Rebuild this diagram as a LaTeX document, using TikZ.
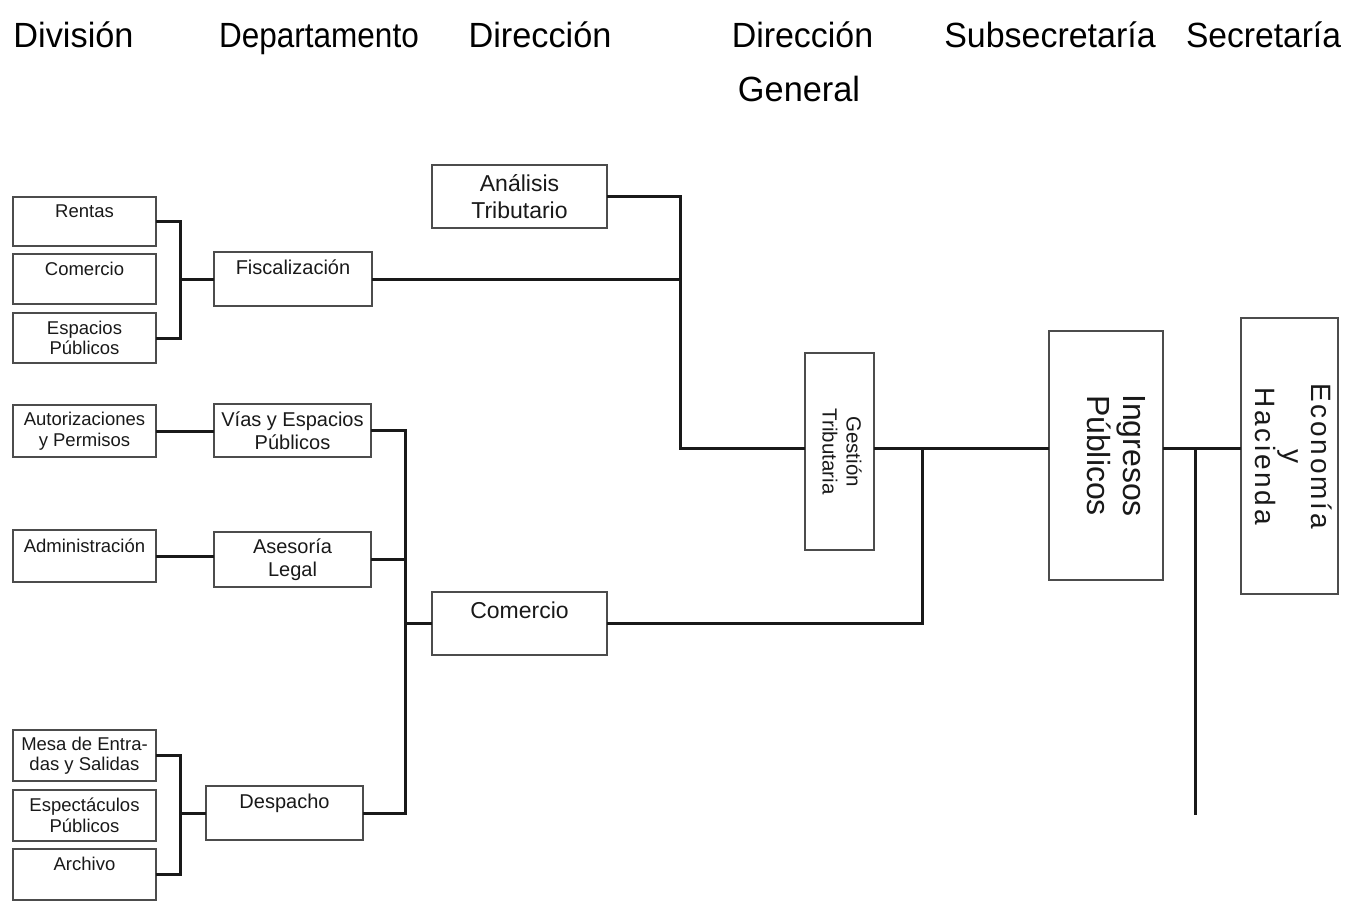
\documentclass[tikz,border=0pt]{standalone}
\usepackage{fontspec}
\setmainfont{Liberation Sans}
\usepackage{graphicx}
\usetikzlibrary{calc}
\begin{document}
\begin{tikzpicture}[x=1pt,y=-1pt,
  box/.style={draw=black!70, line width=1.2pt, inner sep=0pt, outer sep=0pt, align=center, text=black!90},
  bx/.style 2 args={minimum width=#1, minimum height=#2},
  conn/.style={line width=3pt, draw=black!90},
  sm/.style={font=\fontsize{18.5}{20.5}\selectfont},
  md/.style={font=\fontsize{20}{23}\selectfont},
  lg/.style={font=\fontsize{23}{27}\selectfont},
  hdr/.style={font=\fontsize{35}{40}\selectfont, inner sep=0pt, anchor=base, text=black}]
\useasboundingbox (0,0) rectangle (1358,921);

% headers
\node[hdr] (hdiv) at (73.5,47) {\scalebox{0.98}[1]{División}};
\node[hdr] (hdep) at (319,47) {\scalebox{0.9}[1]{Departamento}};
\node[hdr] (hdir) at (540,47) {\scalebox{0.98}[1]{Dirección}};
\node[hdr] (hdg1) at (802.5,47) {\scalebox{0.97}[1]{Dirección}};
\node[hdr] (hdg2) at (799,101) {\scalebox{0.98}[1]{General}};
\node[hdr] (hsub) at (1050,47) {\scalebox{0.97}[1]{Subsecretaría}};
\node[hdr] (hsec) at (1263.5,47) {\scalebox{0.96}[1]{Secretaría}};

% boxes
\node[box,sm,bx={143}{49}] (rentas) at (84.5,221.5) {Rentas\\\mbox{}};
\node[box,sm,bx={143}{50}] (comS) at (84.5,279) {Comercio\\\mbox{}};
\node[box,sm,bx={143}{50}] (esp) at (84.5,338) {Espacios\\Públicos};
\node[box,md,bx={158}{54}] (fisc) at (293,279) {Fiscalización\\\mbox{}};
\node[box,lg,bx={175}{63}] (anal) at (519.5,196.5) {Análisis\\Tributario};
\node[box,bx={69}{197},font=\fontsize{20.5}{24}\selectfont] (gest) at (839.5,451.5)
  {\rotatebox{-90}{\begin{tabular}{@{}c@{}}Gestión\\Tributaria\end{tabular}}};
\node[box,bx={114}{249},font=\fontsize{32}{36}\selectfont] (ingr) at (1106,455.5)
  {\rotatebox{-90}{\raisebox{7pt}[\height][\depth]{\begin{tabular}{@{}c@{}}Ingresos\\Públicos\end{tabular}}}};
\node[box,bx={97}{276},font=\fontsize{28}{28}\selectfont] (econ) at (1289.5,456)
  {\rotatebox{-90}{\addfontfeature{LetterSpace=10}\begin{tabular}{@{}c@{}}Economía\\y\\Hacienda\end{tabular}}};
\node[box,sm,bx={143}{52}] (autor) at (84.5,431) {Autorizaciones\\y Permisos};
\node[box,md,bx={157}{53}] (vias) at (292.5,430.5) {Vías y Espacios\\Públicos};
\node[box,sm,bx={143}{52}] (admin) at (84.5,556) {Administración\\\mbox{}};
\node[box,md,bx={157}{55}] (ases) at (292.5,559.5) {Asesoría\\Legal};
\node[box,lg,bx={175}{63}] (comD) at (519.5,623.5) {Comercio\\\mbox{}};
\node[box,md,bx={157}{54}] (desp) at (284.5,813) {Despacho\\\mbox{}};
\node[box,sm,bx={143}{51}] (mesa) at (84.5,755.5) {Mesa de Entra-\\das y Salidas};
\node[box,sm,bx={143}{51}] (espect) at (84.5,815.5) {Espectáculos\\Públicos};
\node[box,sm,bx={143}{51}] (arch) at (84.5,874.5) {Archivo\\\mbox{}};

% helper coordinates
\coordinate (xa) at (180,0);
\coordinate (xb) at (680,0);
\coordinate (xc) at (922,0);
\coordinate (xd) at (1195,0);
\coordinate (xe) at (405,0);
\coordinate (ym) at (0,448);
\coordinate (endline) at (1195,815);

% connectors
\draw[conn] (rentas.east) -| (xa |- fisc.west) |- (esp.east);
\draw[conn] (xa |- fisc.west) -- (fisc.west);
\draw[conn] (fisc.east) -- (fisc.east -| xb);
\draw[conn] (anal.east) -| (xb |- ym) -- (gest.west |- ym);
\draw[conn] (gest.east |- ym) -- (ingr.west |- ym);
\draw[conn] (xc |- ym) |- (comD.east);
\draw[conn] (ingr.east |- ym) -- (econ.west |- ym);
\draw[conn] (xd |- ym) -- (endline);
\draw[conn] (autor.east) -- (autor.east -| vias.west);
\draw[conn] (vias.east) -| (xe |- desp.east) -- (desp.east);
\draw[conn] (admin.east) -- (admin.east -| ases.west);
\draw[conn] (ases.east) -- (ases.east -| xe);
\draw[conn] (xe |- comD.west) -- (comD.west);
\draw[conn] (mesa.east) -| (xa |- desp.west) |- (arch.east);
\draw[conn] (xa |- desp.west) -- (desp.west);
\end{tikzpicture}
\end{document}
